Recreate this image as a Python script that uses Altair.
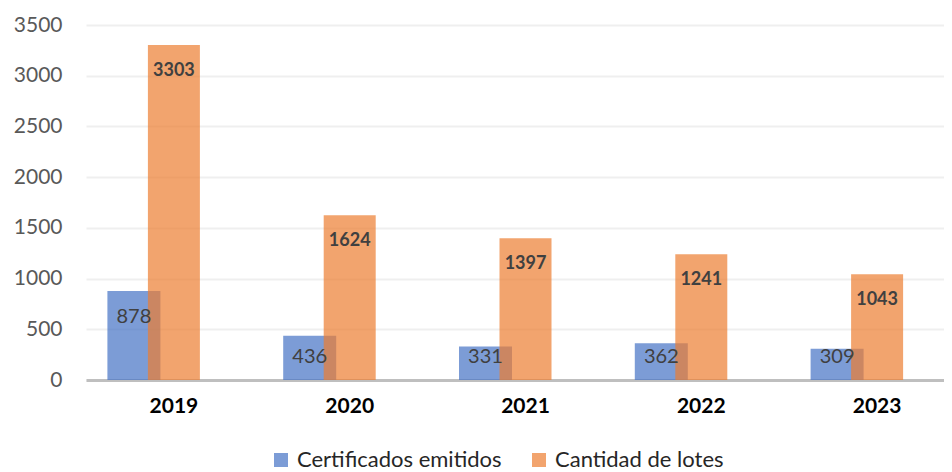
import altair as alt
import pandas as pd

years = ["2019", "2020", "2021", "2022", "2023"]
certificados = [878, 436, 331, 362, 309]
lotes = [3303, 1624, 1397, 1241, 1043]
series_names = ["Certificados emitidos", "Cantidad de lotes"]
colors = ["#4472C4", "#ED7D31"]
y_ticks = [0, 500, 1000, 1500, 2000, 2500, 3000, 3500]

df_c = pd.DataFrame({"year": years, "value": certificados, "series": series_names[0]})
df_l = pd.DataFrame({"year": years, "value": lotes, "series": series_names[1]})

FONT = "Lato"

x_enc = alt.X(
    "year:N",
    sort=years,
    scale=alt.Scale(domain=years, range=[0, 879], paddingInner=0, paddingOuter=0),
    axis=alt.Axis(
        title=None, labelAngle=0, labelFontWeight="bold", labelFontSize=21,
        labelColor="#000000", labelFont=FONT, labelPadding=15, ticks=False,
        domainColor="#BFBFBF", domainWidth=3, grid=False,
    ),
)
y_enc = alt.Y(
    "value:Q",
    scale=alt.Scale(domain=[0, 3500], nice=False),
    axis=alt.Axis(
        title=None, values=y_ticks, format="d", labelFontSize=21, labelColor="#595959",
        labelFont=FONT, labelPadding=24, ticks=False, domain=False,
        gridColor="#EFEFEF", gridWidth=2,
    ),
)
color_enc = alt.Color(
    "series:N",
    scale=alt.Scale(domain=series_names, range=colors),
    legend=alt.Legend(
        title=None, orient="none", direction="horizontal", legendX=184, legendY=424,
        symbolType="square", symbolSize=196, symbolOpacity=0.7, symbolStrokeWidth=0,
        labelFontSize=22, labelFont=FONT, labelColor="#262626", labelOffset=5,
        columnPadding=26, labelLimit=400,
    ),
)

blue = alt.Chart(df_c).mark_bar(width=53, xOffset=-40, opacity=0.7).encode(
    x=x_enc, y=y_enc, color=color_enc
)
orange = alt.Chart(df_l).mark_bar(width=52, opacity=0.7).encode(
    x=alt.X("year:N", sort=years), y="value:Q", color=color_enc
)
blue_text = alt.Chart(df_c).transform_calculate(
    lab="max(datum.value - 258, 225)"
).mark_text(dx=-40, fontSize=20, font=FONT, color="#404040", baseline="middle").encode(
    x=alt.X("year:N", sort=years), y="lab:Q", text="value:Q"
)
orange_text = alt.Chart(df_l).mark_text(
    dy=26, fontSize=18, font=FONT, fontWeight="bold", color="#404040", baseline="middle"
).encode(x=alt.X("year:N", sort=years), y="value:Q", text="value:Q")

chart = alt.layer(blue, orange, blue_text, orange_text).properties(
    width=858, height=355,
    autosize=alt.AutoSizeParams(type="none"),
    padding={"left": 78, "top": 17, "right": 0, "bottom": 92},
).configure_view(stroke=None)

chart.save("out.html", embed_options={"renderer": "svg", "actions": False})
